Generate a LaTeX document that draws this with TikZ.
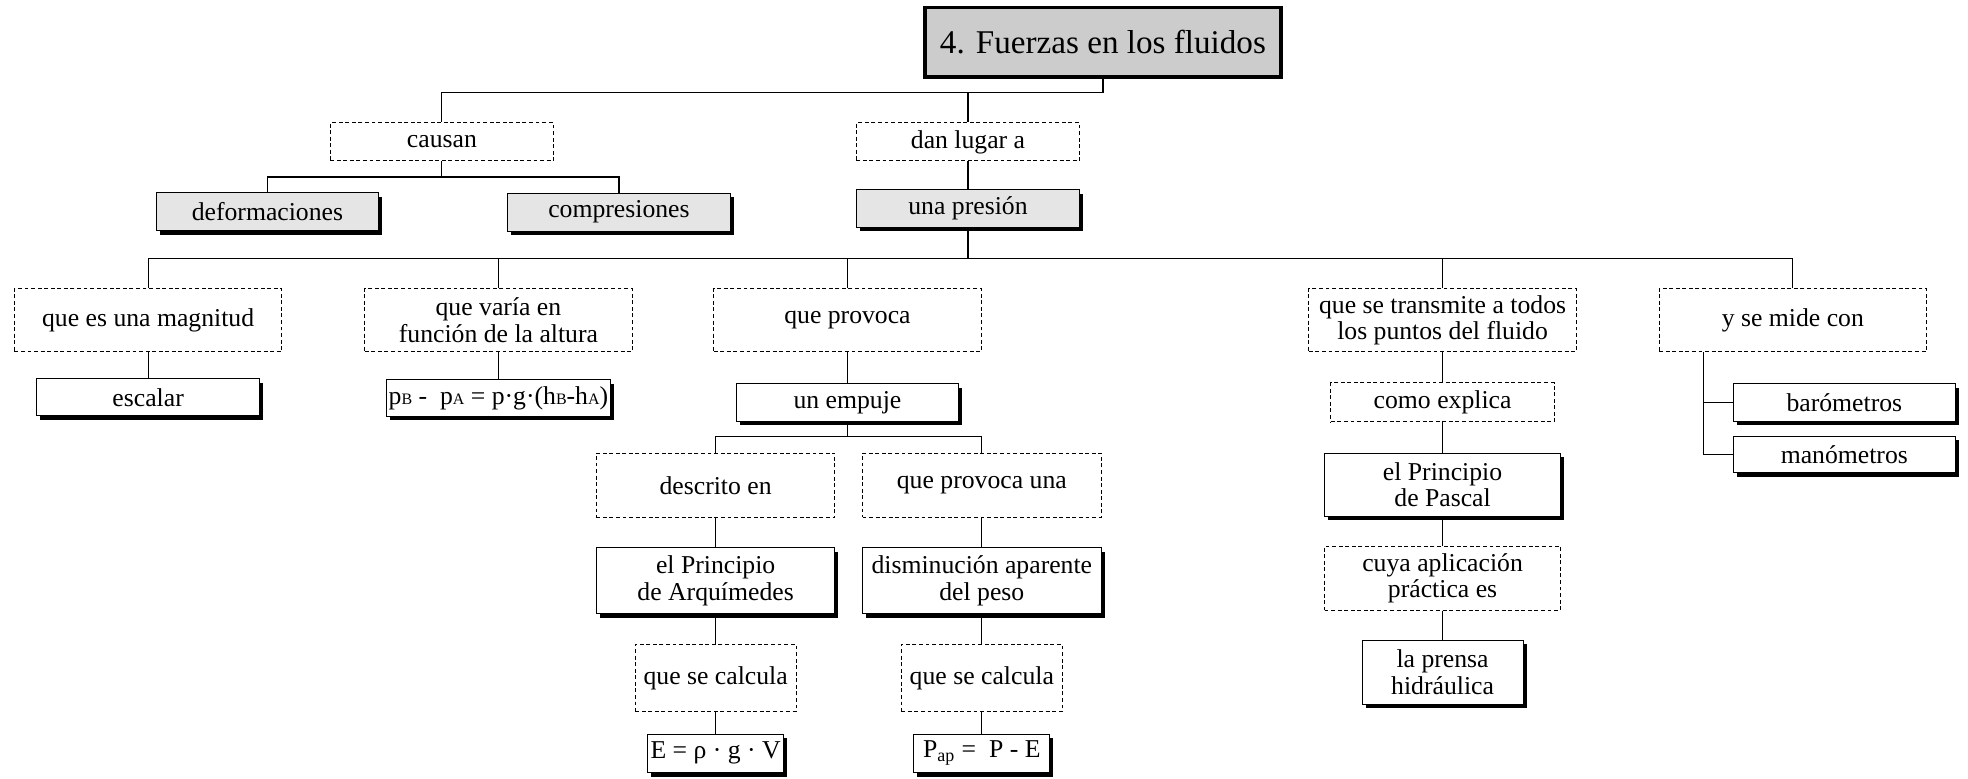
\documentclass[tikz,border=0pt]{standalone}
\usepackage{fontspec}
\setmainfont{Liberation Serif}
\usetikzlibrary{shadows}

\newcommand{\subfl}[1]{{\fontsize{9}{9}\selectfont #1}}

\begin{document}
\begin{tikzpicture}[
    x=0.02488cm, y=-0.02488cm,
    font=\fontsize{14.5}{15}\selectfont,
    titlebox/.style={draw, line width=2pt, fill=black!20, minimum width=7.05cm, minimum height=1.375cm, font=\fontsize{18.7}{20}\selectfont},
    linkbox/.style={draw, line width=0.6pt, dash pattern=on 2.2pt off 1.5pt, align=center, inner sep=1pt},
    conceptbox/.style={draw, line width=0.6pt, fill=white, align=center, inner sep=1pt, drop shadow={shadow xshift=0.07cm, shadow yshift=-0.08cm, fill=black, opacity=1}},
    graybox/.style={conceptbox, fill=black!10},
    link/.style={line width=0.6pt}
]
    \useasboundingbox (0,0) rectangle (1567.5,620);

    % Tema
    \node[titlebox] (tema) at (878.5,33.5) {4. Fuerzas en los fluidos};

    % Primer nivel
    \node[linkbox, minimum width=4.43cm, minimum height=0.75cm] (causan) at (352,113) {causan};
    \node[linkbox, minimum width=4.43cm, minimum height=0.75cm] (danlugar) at (771,113) {dan lugar a};
    \node[graybox, minimum width=4.41cm, minimum height=0.75cm] (deform) at (213,168.5) {deformaciones};
    \node[graybox, minimum width=4.41cm, minimum height=0.75cm] (compres) at (493,169) {compresiones};
    \node[graybox, minimum width=4.41cm, minimum height=0.75cm] (presion) at (771,166) {una presión};

    % Segundo nivel
    \node[linkbox, minimum width=5.3cm, minimum height=1.25cm] (magnitud) at (118,255) {que es una magnitud};
    \node[linkbox, minimum width=5.3cm, minimum height=1.25cm] (varia) at (397,255) {que varía en\\función de la altura};
    \node[linkbox, minimum width=5.3cm, minimum height=1.25cm] (provoca) at (675,255) {que provoca};
    \node[linkbox, minimum width=5.3cm, minimum height=1.25cm] (transmite) at (1149,255) {que se transmite a todos\\los puntos del fluido};
    \node[linkbox, minimum width=5.3cm, minimum height=1.25cm] (mide) at (1428,255) {y se mide con};

    \node[conceptbox, minimum width=4.41cm, minimum height=0.73cm] (escalar) at (118,316.5) {escalar};
    \node[conceptbox, minimum width=4.43cm, minimum height=0.73cm] (formula) at (397,317) {p\subfl{B} -\ \ p\subfl{A} = p·g·(h\subfl{B}-h\subfl{A})};
    \node[conceptbox, minimum width=4.41cm, minimum height=0.75cm] (empuje) at (675,320.5) {un empuje};
    \node[linkbox, minimum width=4.43cm, minimum height=0.775cm] (explica) at (1149,320.5) {como explica};
    \node[conceptbox, minimum width=4.41cm, minimum height=0.74cm] (baro) at (1469,320.5) {barómetros};
    \node[conceptbox, minimum width=4.41cm, minimum height=0.72cm] (mano) at (1469,362) {manómetros};

    % Empuje
    \node[linkbox, minimum width=4.73cm, minimum height=1.275cm] (descrito) at (570,386.5) {descrito en};
    \node[linkbox, minimum width=4.73cm, minimum height=1.275cm] (provocauna) at (782,386.5) {que provoca una};
    \node[conceptbox, minimum width=4.73cm, minimum height=1.3cm] (arquimedes) at (570,462.5) {el Principio\\de Arquímedes};
    \node[conceptbox, minimum width=4.73cm, minimum height=1.3cm] (dismin) at (782,462.5) {disminución aparente\\del peso};
    \node[linkbox, minimum width=3.19cm, minimum height=1.33cm] (calculaA) at (570,540) {que se calcula};
    \node[linkbox, minimum width=3.19cm, minimum height=1.33cm] (calculaB) at (782,540) {que se calcula};
    \node[conceptbox, minimum width=2.7cm, minimum height=0.76cm] (formE) at (570,600) {E = ρ · g · V};
    \node[conceptbox, minimum width=2.69cm, minimum height=0.76cm] (formP) at (782,600) {P\textsubscript{ap} = \ P - E};

    % Pascal
    \node[conceptbox, minimum width=4.68cm, minimum height=1.25cm] (pascal) at (1149,386) {el Principio\\de Pascal};
    \node[linkbox, minimum width=4.68cm, minimum height=1.27cm] (cuya) at (1149,460.5) {cuya aplicación\\práctica es};
    \node[conceptbox, minimum width=3.19cm, minimum height=1.27cm] (prensa) at (1149,535.5) {la prensa\\hidráulica};

    % Uniones
    \coordinate (j0) at (878.5,74);
    \coordinate (j1) at (352,141);
    \coordinate (j2) at (771,206);
    \coordinate (j3) at (675,348);
    \coordinate (j4) at (1356.5,362);

    \draw[link] (tema.south) -- (j0) -| (causan.north);
    \draw[link] (j0) -| (danlugar.north);
    \draw[link] (causan) -- (j1);
    \draw[link] (j1) -| (deform.north);
    \draw[link] (j1) -| (compres.north);
    \draw[link] (danlugar) -- (presion);
    \draw[link] (presion) -- (j2);
    \draw[link] (j2) -| (magnitud.north);
    \draw[link] (j2) -| (varia.north);
    \draw[link] (j2) -| (provoca.north);
    \draw[link] (j2) -| (transmite.north);
    \draw[link] (j2) -| (mide.north);

    \draw[link] (magnitud) -- (escalar);
    \draw[link] (varia) -- (formula);
    \draw[link] (provoca) -- (empuje);
    \draw[link] (empuje) -- (j3);
    \draw[link] (j3) -| (descrito.north);
    \draw[link] (j3) -| (provocauna.north);
    \draw[link] (descrito) -- (arquimedes);
    \draw[link] (arquimedes) -- (calculaA);
    \draw[link] (calculaA) -- (formE);
    \draw[link] (provocauna) -- (dismin);
    \draw[link] (dismin) -- (calculaB);
    \draw[link] (calculaB) -- (formP);

    \draw[link] (transmite) -- (explica);
    \draw[link] (explica) -- (pascal);
    \draw[link] (pascal) -- (cuya);
    \draw[link] (cuya) -- (prensa);

    \draw[link] (j4 |- mide.south) |- (baro.west);
    \draw[link] (j4 |- mide.south) |- (mano.west);
\end{tikzpicture}
\end{document}
